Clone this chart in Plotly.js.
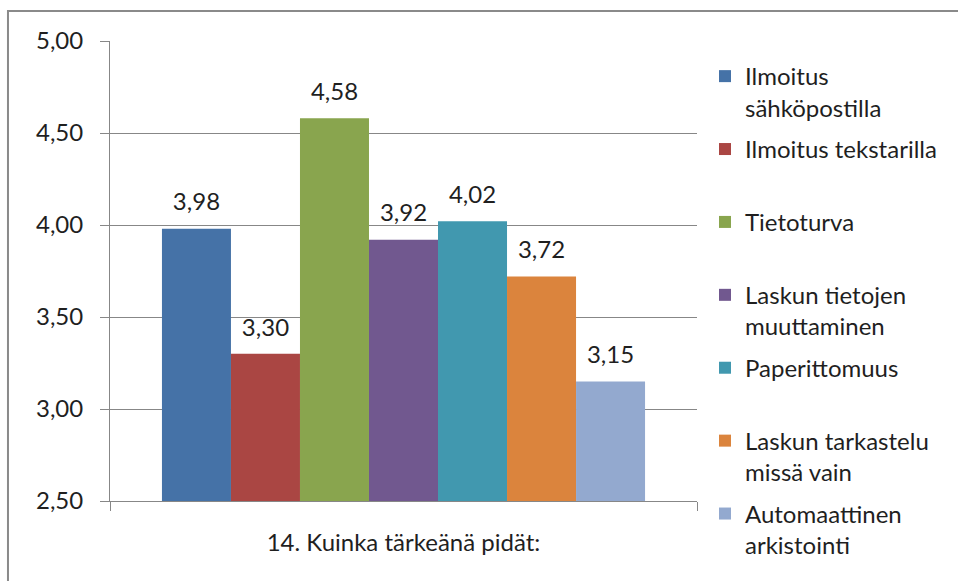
<!DOCTYPE html>
<html>
<head>
<meta charset="utf-8">
<script src="https://cdn.plot.ly/plotly-3.0.1.min.js"></script>
<style>html,body{margin:0;padding:0;background:#fff;}#chart{width:958px;height:581px;}</style>
</head>
<body>
<div id="chart"></div>
<script>
// Data
const category = ["14. Kuinka tärkeänä pidät:"];
const seriesNames = [
  "Ilmoitus<br>sähköpostilla",
  "Ilmoitus tekstarilla<br> ",
  "Tietoturva<br> ",
  "Laskun tietojen<br>muuttaminen",
  "Paperittomuus<br> ",
  "Laskun tarkastelu<br>missä vain",
  "Automaattinen<br>arkistointi"
];
const seriesValues = [3.98, 3.30, 4.58, 3.92, 4.02, 3.72, 3.15];
const seriesColors = ["#4572A7", "#AA4643", "#89A54E", "#71588F", "#4198AF", "#DB843D", "#93A9CF"];
const yTickVals = [2.5, 3.0, 3.5, 4.0, 4.5, 5.0];

const FONT = "Lato, 'Open Sans', sans-serif";
const TXT = "#1f1f1f";
const GRID = "#878787";
const GAP = 0.177;

const fmt = v => v.toFixed(2).replace(".", ",");

const bars = seriesNames.map((name, i) => ({
  type: "bar",
  name: name,
  x: category,
  y: [seriesValues[i]],
  marker: {color: seriesColors[i], line: {width: 0}},
  legendgroup: "g" + i,
  offsetgroup: "g" + i,
  hoverinfo: "none"
}));

// value labels, grouped like the bars (scattermode: group)
const labels = seriesNames.map((name, i) => ({
  type: "scatter",
  mode: "markers+text",
  x: category,
  y: [seriesValues[i]],
  text: [fmt(seriesValues[i])],
  textposition: "top center",
  textfont: {family: FONT, size: 24, color: TXT},
  marker: {size: 18, color: "rgba(0,0,0,0)"},
  offsetgroup: "g" + i,
  cliponaxis: false,
  showlegend: false,
  hoverinfo: "none"
}));

const layout = {
  width: 958,
  height: 581,
  margin: {l: 110, r: 261, t: 41, b: 80, pad: 0, autoexpand: false},
  paper_bgcolor: "#ffffff",
  plot_bgcolor: "#ffffff",
  separators: ", ",
  barmode: "group",
  bargap: GAP,
  bargroupgap: 0,
  scattermode: "group",
  scattergap: GAP,
  font: {family: FONT, size: 24, color: TXT},
  showlegend: true,
  legend: {
    x: 1.0136, xanchor: "left",
    yref: "container",
    y: 0.907, yanchor: "top",
    valign: "top",
    maxheight: 580,
    font: {family: FONT, size: 24, color: TXT},
    tracegroupgap: 7.5,
    bgcolor: "rgba(0,0,0,0)",
    borderwidth: 0
  },
  xaxis: {
    type: "category",
    showgrid: false,
    showline: true,
    linecolor: GRID,
    linewidth: 1,
    ticks: "outside",
    tickson: "boundaries",
    ticklen: 9,
    tickcolor: GRID,
    tickwidth: 1,
    ticklabelstandoff: 20,
    tickfont: {family: FONT, size: 24, color: TXT},
    zeroline: false,
    fixedrange: true
  },
  yaxis: {
    range: [2.5, 5.0],
    tickvals: yTickVals,
    tickformat: ".2f",
    showgrid: true,
    gridcolor: GRID,
    gridwidth: 1,
    showline: true,
    linecolor: GRID,
    linewidth: 1,
    ticks: "outside",
    ticklen: 9,
    tickcolor: GRID,
    tickwidth: 1,
    ticklabelstandoff: 12,
    tickfont: {family: FONT, size: 24, color: TXT},
    zeroline: false,
    fixedrange: true
  },
  shapes: [{
    type: "rect", xref: "paper", yref: "paper",
    x0: -0.1738, x1: 1.6, y0: -0.5, y1: 1.0653,
    line: {color: "#8a8a8a", width: 2},
    fillcolor: "rgba(0,0,0,0)",
    layer: "below"
  }]
};

Plotly.newPlot("chart", bars.concat(labels), layout, {displayModeBar: false, staticPlot: true});
</script>
</body>
</html>
